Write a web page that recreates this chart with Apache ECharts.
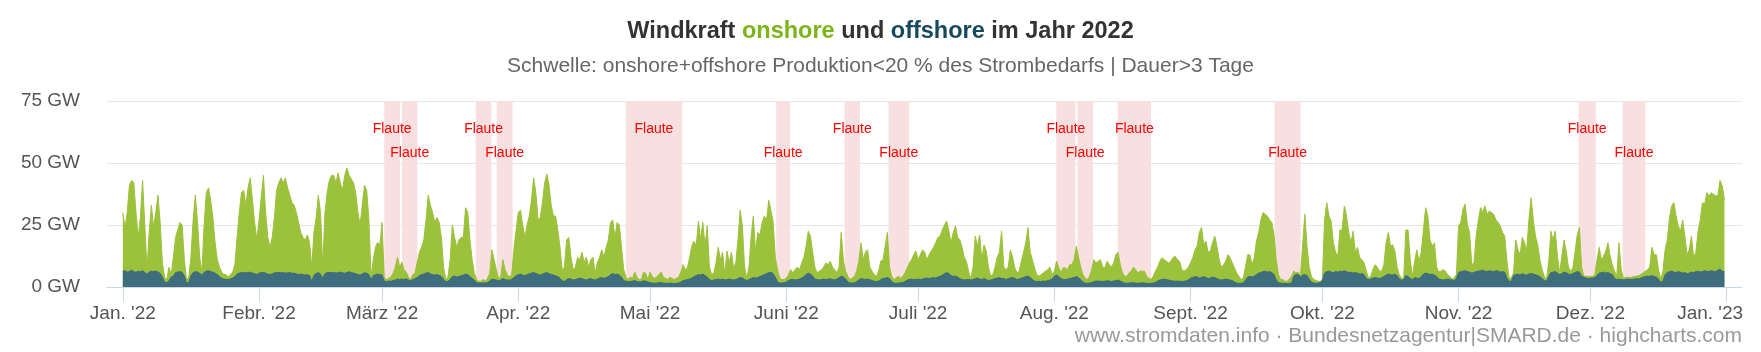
<!DOCTYPE html>
<html>
<head>
<meta charset="utf-8">
<script src="https://cdn.jsdelivr.net/npm/echarts@6/dist/echarts.min.js"></script>
<style>
html,body{margin:0;padding:0;background:#fff;}
#chart{width:1761px;height:352px;}
</style>
</head>
<body>
<div id="chart"></div>
<script>
// Half-daily samples starting 2022-01-01 00:00 (12 h step)
const seriesStart = [2022, 0, 1];
const stepHours = 12;

// onshore + offshore (top of the stacked area), GW
const windTotal = [
30,24,30,41,43,42,30,20,28,43,
25,7,22,33,24,30,37,26,10,4,
3,8,5,12,20,23,26,25,11,3,
4,12,27,37,26,12,6,25,38,40,
35,28,18,11,8,6,5,5,4,5,
6,9,20,30,38,39,33,40,44,35,
26,19,27,36,45,30,20,16,20,28,
39,42,44,42,44,40,37,34,33,30,
26,22,20,19,21,18,8,22,28,37,
30,8,30,38,43,45,45,42,46,42,
39,45,48,45,43.5,42,38,30,25,33,
41,39,27,4,11,16,18,17,26,4,
3,3.5,4,5.5,8,12,8,10,7,6,
4,3,5,5.5,10,14,16,19,27,37,
33,30,26,28,26,20,8,3,4,11,
25,20,16,19,20,20,32,30,19,11,
5.5,3,2.3,2.3,3,2.3,3.5,5.5,15,11,
7,3.5,4,11,7,5,4,5,15,23,
30,31,25,20,25,28.6,35,44,38,27,
28,34,42,45.5,41,33,28.6,28.6,23,16,
7,8,19,20,12,7,8,12,11,14,
10,12,8,11,12,5.5,10,12,15,12,
16,19,26,27,20,26,25,16,7,4,
3,4,3.5,6,4,3,3,6,5.5,3,
6,4,3.5,4,5,6,4,3.5,3,4,
3.5,3,3.5,4,6,9,7,8,12,16.5,
18.5,16.5,26.6,19,26,16.5,24.6,8,5,5.7,
9.7,16,11,14,5,14.5,9.7,14,7.7,9.7,
19,31,24.6,8,3.6,8,20.5,28.6,14,22,
21,26,28.6,27,35,31,26,12,7,3.6,
3,3,3.6,5,7,5.7,7,8,7,9.7,
12,16.5,22.5,20.5,14,8,5.7,6.4,7,8,
9.7,9,10.4,8,7,5.7,8,22,10.4,6.4,
4.3,3,3.6,4.3,6.4,10.4,17.8,11,14,15,
8,6.4,5,4.3,6.4,10.4,11,16.5,22,8,
4.3,3,3.6,4.3,3.6,4.3,5.7,7.7,9.7,11,
13,14.5,11,13,15,14,11,13,14.5,16,
17.8,20,20.5,23,25,26.6,22.5,17.8,22,24.6,
20,19,16,12,10.4,6,3.5,8,20.5,16.5,
21,11,17,14.5,8,4.3,5,8,12,14,
22.5,8,7,8,15,12,7.7,5.7,6.4,10.4,
14,17.8,24,14,11,7.7,5,4.3,5,5.7,
6.4,7,8,5,6.4,10.4,8,5.7,7.7,7.7,
7,9,9,11,16.5,12,8,5,3.6,3,
4.3,7,11,9.7,10.4,11,8,7.7,10.4,9,
8,9.7,13,14,9,5.7,4.3,4.3,5.7,6.4,
8,7,5.7,6.4,6.4,6.4,4.3,3.6,3,4.3,
6.4,8,10.4,11.8,11,10.4,9.7,10.4,11.8,12.4,
11,10.4,7,6.4,7,8,9.7,11.8,15,16.5,
22,24,17,18.5,14,14.5,17.8,20.5,16.5,11,
8,9,10.4,13,11.8,9.7,7.7,5.7,4.3,3,
3.6,8,13,13,9,11.8,18.5,22,27,30,
29.3,28.6,27,26,21,11,5,3,3,2.3,
2.3,3.2,4.3,6.4,5.7,6,4.3,16.5,29.3,16.5,
8,4.3,3,2.7,2.3,2.3,3,27,34,28.6,
26.6,17.8,14,12.4,23,23,32.7,28.6,22,17.8,
22.5,14,16,11.8,11,9.7,6.4,3.6,4.3,7,
9,8,6.4,6.4,9,17.8,22,16.5,17,14.5,
8,5,3.6,3.4,23,23,11,4.3,10.4,15,
10.4,14,23,32,28.6,19,16.5,17.8,8,6,
6.4,7,6.4,5,4.3,3.2,3.6,5,24.6,26,
31.4,33.4,25,22,9,9.7,20.5,27,32,30,
32.7,29.3,30.6,30,29.3,27,26,24.6,22,20.5,
10.4,3.6,3.6,5.7,19,15,13,20,17.8,15,
27,36,27,20.5,17,11,7,4.3,3,9.7,
22.5,19,22.5,12.4,5.7,12.4,19,14.5,8,6.4,
7.7,14,21,24,8,4.3,4.3,4.3,4.3,4.3,
5,11,16,11,12.4,14.5,17.8,12.4,9,6.4,
4.3,17.8,7,3.6,3.8,4.0,3.8,4.0,4.2,4.4,
4.6,5.0,5.7,6.4,7,8,16,13,13,7,
3.2,6.4,15,19,28,32.7,34,28.6,24.6,22.5,
27,20.5,13,15,20.5,11.8,14,22.5,27,34,
33.4,38,36.8,38,37.4,36.8,36.8,43,40.8,35.4
];

// offshore, GW
const windOffshore = [
6.4,6.6,6.0,6.3,6.8,6.2,5.9,6.4,6.1,6.6,
5.8,5.2,6.0,6.4,6.2,6.5,6.0,5.5,4.0,2.0,
1.8,2.5,4.0,4.3,5.8,6.0,6.2,5.9,4.5,1.6,
1.8,4.5,5.8,6.2,6.0,5.5,4.8,5.9,6.4,6.6,
6.2,6.0,5.6,5.0,4.2,3.5,3.2,3.0,3.0,3.3,
3.6,4.2,5.2,5.6,5.8,5.9,5.7,5.8,6.0,5.6,
5.4,5.0,5.6,5.8,5.9,5.6,5.2,5.0,5.3,5.7,
5.8,5.9,5.7,5.8,5.6,5.7,5.8,5.5,5.6,5.3,
5.0,5.2,5.0,4.8,5.0,4.6,2.2,4.8,5.4,5.8,
5.2,3.5,5.4,5.8,5.9,5.8,5.9,5.6,5.8,6.0,
5.7,5.5,5.9,6.1,5.8,5.6,5.4,5.0,4.8,5.3,
5.7,5.6,5.0,3.0,4.6,5.0,5.2,5.0,4.8,2.3,
2.2,2.4,2.3,2.6,2.8,3.2,3.0,3.2,3.0,3.3,
2.8,2.6,3.0,3.4,3.8,4.6,5.0,5.2,5.6,5.8,
5.3,5.0,4.8,5.0,4.7,4.2,3.0,2.2,2.3,3.0,
4.2,4.4,4.0,4.3,4.5,4.8,5.2,5.0,4.2,3.5,
2.8,1.8,1.6,1.6,1.7,1.6,1.8,2.4,3.2,3.0,
2.8,2.6,2.8,3.4,3.0,2.8,2.8,3.0,3.8,4.5,
5.0,5.2,4.8,4.6,5.0,5.3,5.6,5.8,5.5,5.0,
4.8,5.2,5.6,5.8,5.4,5.0,4.8,4.5,4.2,3.5,
2.4,2.3,3.0,3.4,3.2,2.8,3.0,3.3,3.6,3.4,
3.0,2.8,3.2,3.4,3.0,2.8,3.2,3.6,3.8,3.4,
3.8,4.2,5.0,5.4,5.0,5.2,4.8,4.0,2.6,2.3,
2.2,2.2,2.4,2.6,2.2,2.0,2.1,2.5,2.4,2.0,
1.8,1.6,1.5,1.6,1.7,1.8,1.6,1.5,1.4,1.6,
1.5,1.4,1.5,1.6,2.0,2.6,2.8,3.0,3.2,3.6,
4.2,4.6,5.0,4.8,5.2,4.6,4.0,3.0,2.6,2.8,
3.0,3.2,3.0,3.2,2.8,3.0,3.2,3.0,2.8,3.0,
3.4,3.8,3.6,3.0,2.6,3.0,3.4,3.8,3.6,3.8,
4.2,4.6,5.0,5.4,5.8,6.0,5.4,4.0,2.0,1.6,
1.6,1.7,2.0,2.6,3.0,3.0,2.8,3.0,3.2,3.6,
4.2,5.0,5.6,5.2,4.4,3.2,3.0,2.8,3.0,3.2,
3.0,3.2,3.3,3.0,2.9,3.2,3.8,4.3,4.0,3.2,
2.0,1.6,1.6,1.7,2.2,2.8,3.4,3.2,3.0,3.2,
3.0,2.6,2.3,2.2,2.4,3.0,3.4,3.6,3.8,3.4,
2.2,1.6,1.5,1.6,1.7,1.8,2.2,2.8,3.0,3.2,
3.0,3.0,3.2,3.0,3.2,3.5,3.6,3.4,3.6,3.8,
3.6,4.0,4.3,4.8,5.4,5.8,5.4,4.6,4.3,4.4,
4.0,3.4,3.0,2.8,3.0,3.0,2.8,3.0,3.4,3.6,
3.2,3.0,3.4,3.0,2.6,2.8,3.0,3.4,3.6,3.8,
3.4,3.4,3.0,3.4,3.6,3.8,3.4,3.0,3.2,3.6,
3.8,4.2,4.4,3.8,3.0,2.4,2.2,2.3,2.2,2.4,
2.3,2.6,2.8,3.2,4.3,4.8,4.2,3.4,3.0,3.0,
3.2,3.4,3.6,3.8,4.2,3.8,3.0,2.0,1.6,1.5,
1.6,1.8,2.2,2.4,2.3,2.4,2.2,2.3,2.5,2.4,
2.2,2.4,2.6,2.8,2.4,2.0,1.6,1.5,1.6,1.7,
1.8,1.6,1.5,1.6,1.7,1.6,1.5,1.4,1.5,1.6,
1.8,2.4,2.8,3.0,3.2,3.0,2.8,2.6,2.4,2.3,
2.4,2.3,2.2,2.3,2.5,2.8,3.6,3.8,4.2,4.0,
3.6,3.8,4.2,3.8,3.4,3.6,4.0,3.8,3.4,3.0,
2.8,3.0,3.2,3.0,2.8,2.6,2.0,1.6,1.5,1.5,
1.6,2.8,4.0,4.3,4.0,4.4,5.0,5.6,5.8,6.2,
6.4,6.0,6.2,5.8,5.0,2.8,1.8,1.6,1.5,1.5,
1.4,1.5,1.6,4.4,5.0,5.2,4.0,4.8,5.0,4.6,
3.2,2.0,1.6,1.5,1.6,1.8,2.6,5.6,6.2,6.4,
6.0,5.8,6.2,6.0,6.4,6.2,6.6,6.2,5.8,6.0,
5.6,5.8,5.6,5.2,5.4,5.0,3.4,3.0,3.2,3.6,
3.8,3.6,3.4,3.8,4.2,4.8,5.2,5.0,4.8,5.2,
4.6,3.2,2.8,3.0,4.6,4.2,3.4,3.0,3.8,3.6,
3.4,4.2,5.2,5.6,5.4,5.0,5.2,4.8,4.2,3.2,
3.0,2.8,3.0,3.2,3.0,2.8,2.6,3.4,5.8,6.2,
6.4,6.6,6.2,6.0,5.6,5.8,6.2,6.4,6.6,6.8,
6.4,6.2,6.6,6.4,6.2,6.6,6.4,6.0,6.2,6.0,
3.6,2.4,2.2,4.6,5.0,5.2,4.8,5.4,5.0,4.8,
5.2,5.4,5.2,5.0,4.6,4.2,3.4,2.6,2.4,4.2,
5.8,6.0,6.2,5.6,5.0,5.4,6.0,5.8,5.2,5.0,
5.4,5.8,6.2,6.0,4.2,4.0,3.6,3.4,3.6,3.6,
3.8,4.6,5.6,5.8,6.0,5.6,5.8,5.4,5.0,3.4,
3.0,3.2,3.0,2.9,3.0,3.2,3.0,3.1,3.2,3.4,
3.2,3.6,4.0,4.2,4.4,4.3,4.6,4.2,4.0,3.2,
1.8,2.4,5.0,5.8,6.2,6.4,6.0,5.8,6.2,6.0,
5.6,5.8,5.4,5.6,6.0,5.8,6.2,6.4,6.0,6.2,
6.6,6.4,6.2,6.6,6.4,6.2,6.8,7.2,6.4,6.2
];

// x-axis ticks
const monthTickDates = ['2022-01-01','2022-02-01','2022-03-01','2022-04-01','2022-05-01','2022-06-01',
  '2022-07-01','2022-08-01','2022-09-01','2022-10-01','2022-11-01','2022-12-01','2023-01-01'];
const monthTickLabels = ["Jan. '22","Febr. '22","März '22","Apr. '22","Mai '22","Juni '22",
  "Juli '22","Aug. '22","Sept. '22","Okt. '22","Nov. '22","Dez. '22","Jan. '23"];
const yTickValues = [0, 25, 50, 75];

// Flaute periods
const flauteStart = ['2022-03-01 12','2022-03-05 13','2022-03-22 08','2022-03-27 02','2022-04-25 11',
  '2022-05-29 17','2022-06-14 06','2022-06-24 06','2022-08-01 11','2022-08-06 06','2022-08-15 10',
  '2022-09-20 03','2022-11-28 08','2022-12-08 08'];
const flauteEnd = ['2022-03-05 02','2022-03-09 01','2022-03-25 21','2022-03-30 17','2022-05-08 07',
  '2022-06-01 20','2022-06-17 19','2022-06-28 23','2022-08-05 19','2022-08-09 19','2022-08-23 00',
  '2022-09-26 01','2022-12-02 05','2022-12-13 12'];
const flauteLabel = 'Flaute';

function parseLocal(s) {
  const p = s.split(/[- ]/).map(Number);
  return new Date(p[0], p[1] - 1, p[2], p[3] || 0).getTime();
}

const times = windTotal.map((_, i) => new Date(seriesStart[0], seriesStart[1], seriesStart[2], stepHours * i).getTime());
const totalData = windTotal.map((v, i) => [times[i], v]);
const offshoreData = windOffshore.map((v, i) => [times[i], v]);
const tickTimes = monthTickDates.map(parseLocal);
const DAY = 86400000;

const FONT = '"Liberation Sans", Arial, Helvetica, sans-serif';

const bands = flauteStart.map((s, i) => [
  { xAxis: parseLocal(s),
    label: { show: true, position: 'insideTop', distance: i % 2 === 0 ? 21 : 45 } },
  { xAxis: parseLocal(flauteEnd[i]) }
]);

const chart = echarts.init(document.getElementById('chart'), null, { renderer: 'canvas' });
chart.setOption({
  animation: false,
  backgroundColor: '#ffffff',
  textStyle: { fontFamily: FONT },
  title: [
    {
      text: '{a|Windkraft }{b|onshore}{a| und }{c|offshore}{a| im Jahr 2022}',
      left: 'center', top: 20, padding: 0,
      textStyle: {
        rich: {
          a: { fontFamily: FONT, fontSize: 23.5, fontWeight: 'bold', color: '#333333' },
          b: { fontFamily: FONT, fontSize: 23.5, fontWeight: 'bold', color: '#7cb518' },
          c: { fontFamily: FONT, fontSize: 23.5, fontWeight: 'bold', color: '#17495e' }
        }
      }
    },
    {
      text: 'Schwelle: onshore+offshore Produktion<20 % des Strombedarfs | Dauer>3 Tage',
      left: 'center', top: 56, padding: 0,
      textStyle: { fontFamily: FONT, fontSize: 21, fontWeight: 'normal', color: '#666666' }
    },
    {
      text: 'www.stromdaten.info · Bundesnetzagentur|SMARD.de · highcharts.com',
      right: 19, top: 326, padding: 0,
      textStyle: { fontFamily: FONT, fontSize: 21, fontWeight: 'normal', color: '#999999' }
    }
  ],
  grid: { left: 107, right: 19, top: 101, bottom: 65, containLabel: false },
  xAxis: {
    type: 'value',
    min: tickTimes[0] - 3.6 * DAY,
    max: tickTimes[tickTimes.length - 1] + 3.5 * DAY,
    axisLine: { show: true, lineStyle: { color: '#ccd6eb', width: 1 } },
    axisTick: { show: true, customValues: tickTimes, length: 15, lineStyle: { color: '#ccd6eb', width: 1 } },
    axisLabel: {
      customValues: tickTimes,
      fontFamily: FONT, fontSize: 19, color: '#555555', margin: 17,
      formatter: function (v) {
        const k = tickTimes.indexOf(v);
        if (k < 0) return '';
        return k === tickTimes.length - 1 ? '{last|' + monthTickLabels[k] + '}' : monthTickLabels[k];
      },
      rich: {
        last: { fontFamily: FONT, fontSize: 19, color: '#555555', padding: [0, 33, 0, 0] }
      }
    },
    splitLine: { show: false }
  },
  yAxis: {
    type: 'value', min: yTickValues[0], max: yTickValues[yTickValues.length - 1], interval: 25,
    axisLine: { show: false }, axisTick: { show: false },
    axisLabel: { fontFamily: FONT, fontSize: 19, color: '#555555', margin: 27, formatter: '{value} GW' },
    splitLine: { lineStyle: { color: '#e6e6e6', width: 1 } }
  },
  series: [
    {
      name: 'Flaute', type: 'line', data: [], z: 1,
      markArea: {
        silent: true,
        itemStyle: { color: '#f8dfe0', opacity: 1 },
        label: { show: true, formatter: flauteLabel, color: '#ff0000', fontSize: 14, fontFamily: FONT },
        data: bands
      }
    },
    {
      name: 'onshore', type: 'line', data: totalData, z: 2,
      showSymbol: false, symbol: 'none', sampling: 'none', smooth: false,
      lineStyle: { width: 1, color: '#9cc13b' },
      areaStyle: { color: '#9cc13b', opacity: 1 }
    },
    {
      name: 'offshore', type: 'line', data: offshoreData, z: 3,
      showSymbol: false, symbol: 'none', sampling: 'none', smooth: false,
      lineStyle: { width: 1, color: '#3e6d7d' },
      areaStyle: { color: '#3e6d7d', opacity: 1 }
    }
  ]
});
</script>
</body>
</html>
